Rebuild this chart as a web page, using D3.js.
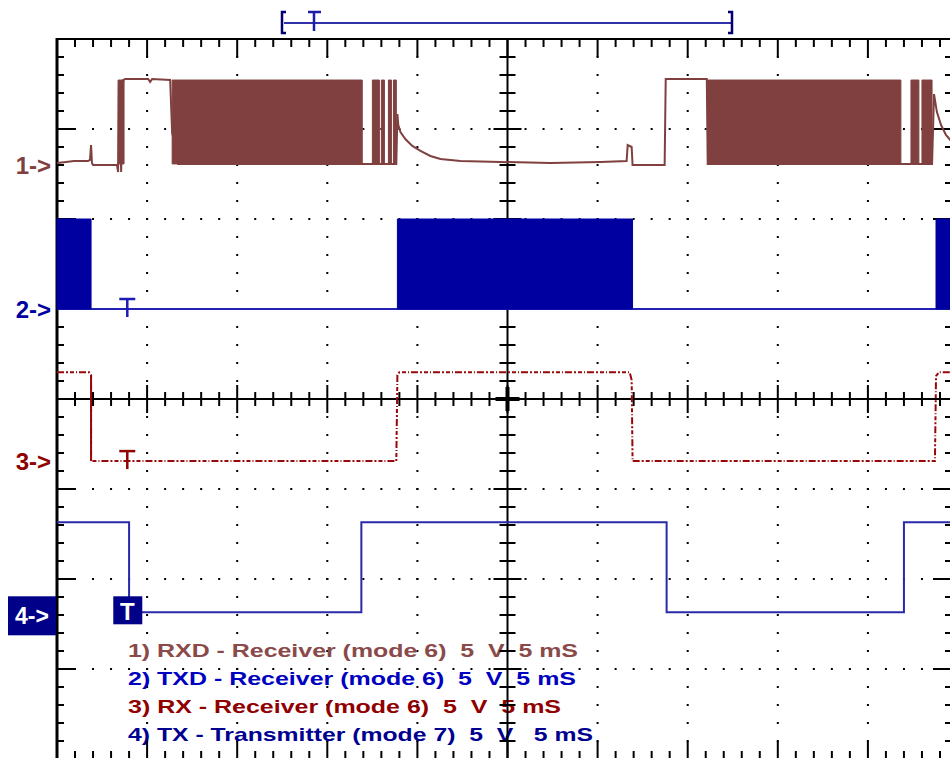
<!DOCTYPE html>
<html><head><meta charset="utf-8">
<script src="https://cdn.jsdelivr.net/npm/d3@7"></script>
<style>html,body{margin:0;padding:0;background:#fff;overflow:hidden}</style>
</head><body><svg id="c" width="950" height="758" xmlns="http://www.w3.org/2000/svg"></svg>
<script>
// ---- data (time in ms, 5 ms/div; amplitude in V, 5 V/div) ----
const timeDomain = [0, 50];
const voltsPerDiv = 5;
const channelNames = ["1->", "2->", "3->", "4->"];
const channelOffsets = [2.6, 1.0, -0.69, -2.37]; // divisions from centre
const ch1Trace = [[0,0.11],[0.5,0.17],[0.94,0.22],[1.72,0.22],[1.83,0.28],[1.89,1.11],[1.94,0.11],[2.0,0],
  [3.33,0],[3.39,-0.39],[3.44,4.72],[3.56,-0.39],[3.67,4.72],[3.78,4.78],[5.06,4.78],[5.17,4.61],[5.28,4.78],
  [6.28,4.72],[6.39,1.78],[6.56,1.22],[6.72,0.06],[16.94,0.06],[18.83,0.06],[18.89,2.83],[18.94,2.22],
  [19.06,1.83],[19.33,1.44],[19.72,1.06],[20.17,0.78],[20.72,0.5],[21.28,0.33],[22.39,0.22],[24.61,0.17],
  [27.39,0.11],[30.17,0.17],[31.61,0.22],[31.67,1.11],[31.89,1.0],[31.94,0],[33.72,0],[33.78,4.78],
  [36.06,4.78],[36.11,0.06],[48.56,0.06],[48.67,3.94],[48.83,2.94],[49.06,2.22],[49.33,1.67],[49.72,1.22]];
const ch1Bursts = [[3.39,3.72],[6.39,16.94],[17.5,17.89],[18.0,18.17],[18.39,18.56],[18.67,18.83],
  [36.11,46.83],[47.39,47.83],[48.0,48.56]];
const ch1BurstLevels = [0.06, 4.72];
const ch2Trace = [[0,0],[50,0]];
const ch2Bursts = [[0,1.89],[18.89,31.94],[48.78,50]];
const ch2BurstLevels = [0, 5];
const ch3Trace = [[0,4.94],[1.78,4.94],[1.89,4.78],[1.89,0],[18.83,0],[18.89,4.78],[19.0,4.94],[31.78,4.94],
  [31.89,4.5],[31.94,0],[48.72,0],[48.78,4.72],[48.94,4.94],[50,4.94]];
const ch4Trace = [[0,5],[4.0,5],[4.0,0],[16.89,0],[16.89,5],[33.83,5],[33.83,0],[47.0,0],[47.0,5],[50,5]];
const triggerTime = 3.9;
const legendLines = [
  "1) RXD - Receiver (mode 6)  5  V  5 mS",
  "2) TXD - Receiver (mode 6)  5  V  5 mS",
  "3) RX - Receiver (mode 6)  5  V  5 mS",
  "4) TX - Transmitter (mode 7)  5  V   5 mS"];

// ---- styles ----
const colors = ["#804040", "#0000a0", "#900000", "#000088"];
const lineColors = ["#804040", "#2222b4", "#980808", "#2a2aa8"];
const legendColors = ["#8a4a4a", "#0000c0", "#900000", "#000090"];
const legendWidths = [450, 448, 433, 465];

const svg = d3.select("#c");
const x = d3.scaleLinear().domain(timeDomain).range([57, 958]);
const yd = d3.scaleLinear().domain([-4, 4]).range([759, 39]);
const chY = (ch, v) => yd(channelOffsets[ch] + v / voltsPerDiv);

const majorT = d3.range(0, 51, 5), minorT = d3.range(0, 51, 1);
const majorD = d3.range(-4, 4.01, 1), minorD = d3.range(-4, 4.01, 0.2);

// grid dots
const g = svg.append("g");
majorT.filter(t => t > 0 && t < 50 && t !== 25).forEach(t => {
  minorD.forEach(d => g.append("rect").attr("x", x(t) - 1).attr("y", yd(d) - 1).attr("width", 2).attr("height", 2).attr("fill", "#000"));
});
majorD.filter(d => d > -4 && d < 4 && Math.abs(d) > 0.01).forEach(d => {
  minorT.forEach(t => g.append("rect").attr("x", x(t) - 1).attr("y", yd(d) - 1).attr("width", 2).attr("height", 2).attr("fill", "#000"));
});

// legend
const lg = svg.append("g").attr("font-family", "Liberation Sans, Arial, sans-serif").attr("font-weight", "bold").attr("font-size", 19);
legendLines.forEach((s, i) => {
  lg.append("text").attr("x", 128).attr("y", 657 + i * 28).attr("fill", legendColors[i])
    .style("white-space", "pre").attr("textLength", legendWidths[i]).attr("lengthAdjust", "spacingAndGlyphs").text(s);
});

// axes / borders
const ax = svg.append("g").attr("stroke", "#000");
const isMajT = t => t % 5 === 0;
const isMajD = d => Math.abs(d - Math.round(d)) < 0.01;
ax.append("line").attr("x1", 57).attr("x2", 57).attr("y1", 38).attr("y2", 760).attr("stroke-width", 3);
ax.append("line").attr("x1", 56).attr("x2", 952).attr("y1", 39).attr("y2", 39).attr("stroke-width", 2);
ax.append("line").attr("x1", 952).attr("x2", 952).attr("y1", 39).attr("y2", 760).attr("stroke-width", 2);
ax.append("line").attr("x1", 56).attr("x2", 952).attr("y1", 759).attr("y2", 759).attr("stroke-width", 2);
ax.append("line").attr("x1", x(25)).attr("x2", x(25)).attr("y1", 39).attr("y2", 759).attr("stroke-width", 2);
ax.append("line").attr("x1", 57).attr("x2", 952).attr("y1", yd(0)).attr("y2", yd(0)).attr("stroke-width", 2);
minorT.forEach(t => {
  const m = isMajT(t), xx = x(t);
  if (t === 0) return;
  ax.append("line").attr("x1", xx).attr("x2", xx).attr("y1", 39).attr("y2", 39 + (m ? 18 : 8)).attr("stroke-width", 2);
  ax.append("line").attr("x1", xx).attr("x2", xx).attr("y1", 759).attr("y2", 759 - (m ? 18 : 8)).attr("stroke-width", 2);
  ax.append("line").attr("x1", xx).attr("x2", xx).attr("y1", yd(0) - (m ? 14 : 7)).attr("y2", yd(0) + (m ? 14 : 7)).attr("stroke-width", 2);
});
minorD.forEach(d => {
  const m = isMajD(d), yy = yd(d);
  if (d < -3.99 || d > 3.99) return;
  ax.append("line").attr("x1", 57).attr("x2", 57 + (m ? 19 : 7)).attr("y1", yy).attr("y2", yy).attr("stroke-width", 2);
  ax.append("line").attr("x1", 952).attr("x2", 952 - (m ? 19 : 7)).attr("y1", yy).attr("y2", yy).attr("stroke-width", 2);
  ax.append("line").attr("x1", x(25) - (m ? 14 : 8)).attr("x2", x(25) + (m ? 14 : 8)).attr("y1", yy).attr("y2", yy).attr("stroke-width", 2);
});
ax.append("line").attr("x1", x(25) - 12).attr("x2", x(25) + 12).attr("y1", yd(0)).attr("y2", yd(0)).attr("stroke-width", 4);
ax.append("line").attr("x1", x(25)).attr("x2", x(25)).attr("y1", yd(0) - 12).attr("y2", yd(0) + 12).attr("stroke-width", 4);

// traces
const tr = svg.append("g");
function drawBursts(ch, bursts, lv) {
  const area = d3.area().x(d => x(d)).y0(chY(ch, lv[0])).y1(chY(ch, lv[1]));
  bursts.forEach(b => tr.append("path").attr("d", area(b)).attr("fill", colors[ch])
    .attr("stroke", colors[ch]).attr("stroke-width", 1));
}
function drawLine(ch, pts, w, dash) {
  const line = d3.line().x(d => x(d[0])).y(d => chY(ch, d[1]));
  const p = tr.append("path").attr("d", line(pts)).attr("fill", "none").attr("stroke", lineColors[ch]).attr("stroke-width", w);
  if (dash) {
    p.attr("stroke-dasharray", dash);
    for (let i = 1; i < pts.length; i++) if (pts[i][0] === pts[i - 1][0])
      tr.append("path").attr("d", line([pts[i - 1], pts[i]])).attr("stroke", lineColors[ch]).attr("stroke-width", w);
  }
}
drawLine(0, ch1Trace, 2);
drawBursts(0, ch1Bursts, ch1BurstLevels);
drawLine(1, ch2Trace, 2);
drawBursts(1, ch2Bursts, ch2BurstLevels);
drawLine(2, ch3Trace, 2, "7,2,2,2,4,2,1,2");
drawLine(3, ch4Trace, 2);

// channel markers
const mk = svg.append("g").attr("font-family", "Liberation Sans, Arial, sans-serif");
[0, 1, 2].forEach(ch => mk.append("text").attr("x", 51).attr("y", chY(ch, 0)).attr("text-anchor", "end")
  .attr("dominant-baseline", "central").attr("font-size", 24).attr("font-weight", "bold").attr("fill", colors[ch]).text(channelNames[ch]));
mk.append("rect").attr("x", 8).attr("y", chY(3, 0) - 16).attr("width", 48).attr("height", 39).attr("fill", colors[3]);
mk.append("text").attr("x", 32).attr("y", chY(3, 0) + 4).attr("text-anchor", "middle").attr("dominant-baseline", "central")
  .attr("font-size", 23).attr("font-weight", "bold").attr("fill", "#fff").text(channelNames[3]);

// trigger markers
const tx = x(triggerTime);
[[1, "#1c1cb4"], [2, "#900000"]].forEach(([ch, c]) => {
  const yb = chY(ch, 0) - 10;
  mk.append("line").attr("x1", tx - 8).attr("x2", tx + 8).attr("y1", yb).attr("y2", yb).attr("stroke", c).attr("stroke-width", 2.5);
  mk.append("line").attr("x1", tx).attr("x2", tx).attr("y1", yb).attr("y2", yb + 18).attr("stroke", c).attr("stroke-width", 2.5);
});
mk.append("rect").attr("x", tx - 14).attr("y", chY(3, 0) - 16).attr("width", 29).attr("height", 28).attr("fill", colors[3]);
mk.append("text").attr("x", tx).attr("y", chY(3, 0) - 1).attr("text-anchor", "middle").attr("dominant-baseline", "central")
  .attr("font-size", 24).attr("font-weight", "bold").attr("fill", "#fff").text("T");

// memory window bracket
const br = svg.append("g").attr("fill", "none");
br.append("line").attr("x1", 284).attr("x2", 731).attr("y1", 23).attr("y2", 23).attr("stroke", "#3030a8").attr("stroke-width", 2);
br.append("path").attr("d", "M286,12H282V33H286").attr("stroke", "#000070").attr("stroke-width", 2.5);
br.append("path").attr("d", "M728,12H732V33H728").attr("stroke", "#000070").attr("stroke-width", 2.5);
br.append("path").attr("d", "M308,12H321M314,12V31").attr("stroke", "#1c1ca8").attr("stroke-width", 2.5);
</script></body></html>
